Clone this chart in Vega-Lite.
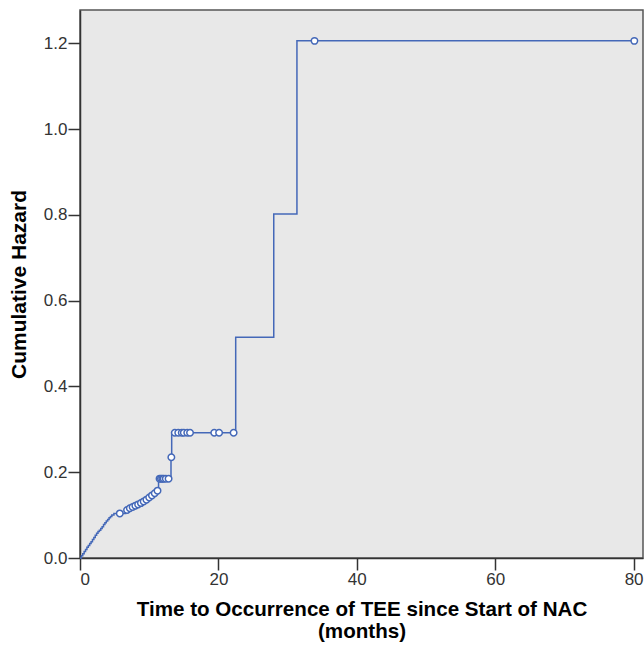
{
  "$schema": "https://vega.github.io/schema/vega-lite/v6.json",
  "width": 563,
  "height": 548,
  "autosize": {"type": "none"},
  "padding": {"left": 80, "top": 10, "right": 1, "bottom": 91},
  "background": "white",
  "config": {
    "view": {"fill": "#e8e8e8", "stroke": "#555555", "strokeWidth": 1.5},
    "font": "Liberation Sans"
  },
  "data": {
    "values": [
      {"t": 0, "h": 0, "c": 0},
      {"t": 0.2, "h": 0.005, "c": 0},
      {"t": 0.4, "h": 0.01, "c": 0},
      {"t": 0.6, "h": 0.015, "c": 0},
      {"t": 0.8, "h": 0.02, "c": 0},
      {"t": 1.0, "h": 0.025, "c": 0},
      {"t": 1.2, "h": 0.029, "c": 0},
      {"t": 1.4, "h": 0.034, "c": 0},
      {"t": 1.6, "h": 0.038, "c": 0},
      {"t": 1.8, "h": 0.043, "c": 0},
      {"t": 2.0, "h": 0.048, "c": 0},
      {"t": 2.2, "h": 0.053, "c": 0},
      {"t": 2.4, "h": 0.058, "c": 0},
      {"t": 2.6, "h": 0.062, "c": 0},
      {"t": 2.8, "h": 0.065, "c": 0},
      {"t": 3.0, "h": 0.069, "c": 0},
      {"t": 3.2, "h": 0.073, "c": 0},
      {"t": 3.4, "h": 0.078, "c": 0},
      {"t": 3.6, "h": 0.082, "c": 0},
      {"t": 3.8, "h": 0.086, "c": 0},
      {"t": 4.0, "h": 0.09, "c": 0},
      {"t": 4.2, "h": 0.094, "c": 0},
      {"t": 4.4, "h": 0.097, "c": 0},
      {"t": 4.6, "h": 0.1, "c": 0},
      {"t": 4.9, "h": 0.104, "c": 0},
      {"t": 5.75, "h": 0.104, "c": 1},
      {"t": 6.6, "h": 0.112, "c": 0},
      {"t": 6.8, "h": 0.112, "c": 1},
      {"t": 7.0, "h": 0.116, "c": 0},
      {"t": 7.2, "h": 0.116, "c": 1},
      {"t": 7.4, "h": 0.119, "c": 0},
      {"t": 7.6, "h": 0.119, "c": 1},
      {"t": 7.8, "h": 0.122, "c": 0},
      {"t": 8.0, "h": 0.122, "c": 1},
      {"t": 8.2, "h": 0.125, "c": 0},
      {"t": 8.4, "h": 0.125, "c": 1},
      {"t": 8.6, "h": 0.128, "c": 0},
      {"t": 8.8, "h": 0.128, "c": 1},
      {"t": 9.0, "h": 0.132, "c": 0},
      {"t": 9.2, "h": 0.132, "c": 1},
      {"t": 9.4, "h": 0.136, "c": 0},
      {"t": 9.6, "h": 0.136, "c": 1},
      {"t": 9.8, "h": 0.141, "c": 0},
      {"t": 10.0, "h": 0.141, "c": 1},
      {"t": 10.2, "h": 0.146, "c": 0},
      {"t": 10.4, "h": 0.146, "c": 1},
      {"t": 10.6, "h": 0.151, "c": 0},
      {"t": 10.8, "h": 0.151, "c": 1},
      {"t": 11.0, "h": 0.157, "c": 0},
      {"t": 11.2, "h": 0.157, "c": 1},
      {"t": 11.35, "h": 0.185, "c": 0},
      {"t": 11.5, "h": 0.185, "c": 1},
      {"t": 11.7, "h": 0.185, "c": 1},
      {"t": 11.9, "h": 0.185, "c": 1},
      {"t": 12.1, "h": 0.185, "c": 1},
      {"t": 12.4, "h": 0.185, "c": 1},
      {"t": 12.8, "h": 0.185, "c": 1},
      {"t": 13.15, "h": 0.235, "c": 0},
      {"t": 13.2, "h": 0.235, "c": 1},
      {"t": 13.25, "h": 0.292, "c": 0},
      {"t": 13.7, "h": 0.292, "c": 1},
      {"t": 14.2, "h": 0.292, "c": 1},
      {"t": 14.7, "h": 0.292, "c": 1},
      {"t": 15.0, "h": 0.292, "c": 1},
      {"t": 15.5, "h": 0.292, "c": 1},
      {"t": 15.9, "h": 0.292, "c": 1},
      {"t": 19.4, "h": 0.292, "c": 1},
      {"t": 20.1, "h": 0.292, "c": 1},
      {"t": 22.2, "h": 0.292, "c": 1},
      {"t": 22.5, "h": 0.515, "c": 0},
      {"t": 28.0, "h": 0.802, "c": 0},
      {"t": 31.35, "h": 1.206, "c": 0},
      {"t": 33.9, "h": 1.206, "c": 1},
      {"t": 80.1, "h": 1.206, "c": 1}
    ]
  },
  "encoding": {
    "x": {
      "field": "t",
      "type": "quantitative",
      "scale": {"domain": [0, 81.36], "nice": false, "zero": false},
      "axis": {
        "values": [0, 20, 40, 60, 80],
        "format": ".0f",
        "grid": false,
        "domainColor": "#333333",
        "domainWidth": 1.5,
        "tickColor": "#333333",
        "tickWidth": 1.5,
        "tickSize": 12,
        "labelFontSize": 17,
        "labelColor": "#333333",
        "labelPadding": 1,
        "title": ["Time to Occurrence of TEE since Start of NAC", "(months)"],
        "titleFontSize": 20.6,
        "titleFontWeight": "bold",
        "titleColor": "#000000",
        "titlePadding": 12,
        "titleLineHeight": 22
      }
    },
    "y": {
      "field": "h",
      "type": "quantitative",
      "scale": {"domain": [0, 1.278], "nice": false},
      "axis": {
        "values": [0, 0.2, 0.4, 0.6, 0.8, 1.0, 1.2],
        "format": ".1f",
        "grid": false,
        "domainColor": "#333333",
        "domainWidth": 1.5,
        "tickColor": "#333333",
        "tickWidth": 1.5,
        "tickSize": 12,
        "labelFontSize": 17,
        "labelColor": "#333333",
        "labelPadding": 1,
        "title": "Cumulative Hazard",
        "titleFontSize": 21,
        "titleFontWeight": "bold",
        "titleColor": "#000000",
        "titlePadding": 14
      }
    }
  },
  "layer": [
    {
      "mark": {"type": "line", "interpolate": "step-after", "color": "#4468b8", "strokeWidth": 1.5},
      "encoding": {"order": {"field": "t", "type": "quantitative"}}
    },
    {
      "transform": [{"filter": "datum.c == 1"}],
      "mark": {"type": "point", "shape": "circle", "filled": true, "fill": "white", "stroke": "#4468b8", "strokeWidth": 1.5, "size": 42, "opacity": 1}
    }
  ]
}
